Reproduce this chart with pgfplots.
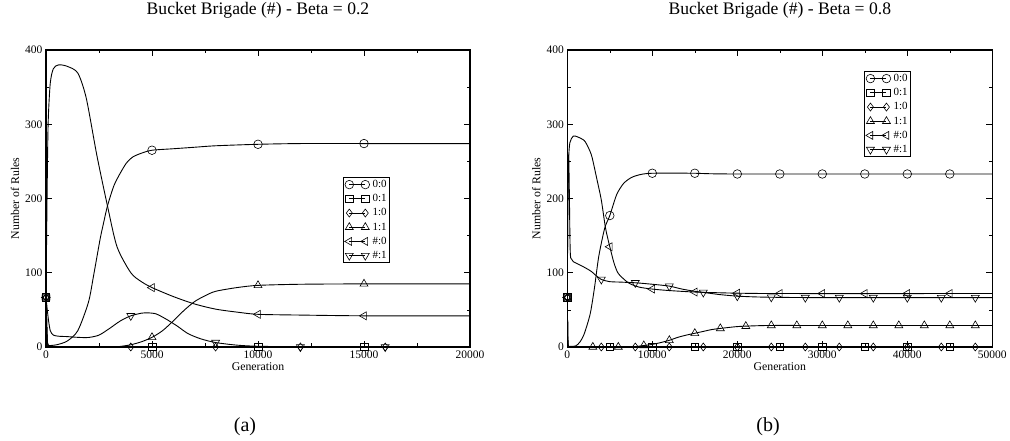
\documentclass[border=0pt]{standalone}
\usepackage{fontspec}
\setmainfont{Liberation Serif}
\usepackage{pgfplots}
\pgfplotsset{compat=1.18}
\pgfplotsset{
  bb/.style={
    scale only axis, width=424pt, height=297pt,
    xmin=0, ymin=0, ymax=400,
    ytick={0,100,200,300,400},
    minor tick num=1,
    tick align=inside,
    major tick length=6pt, minor tick length=3.5pt,
    tick style={black, line width=0.6pt},
    axis line style={line width=1.1pt},
    ticklabel style={font=\fontsize{11.5}{11.5}\selectfont},
    /pgf/number format/assume math mode=true,
    /pgf/number format/1000 sep={},
    scaled x ticks=false,
    label style={font=\fontsize{11.8}{11.8}\selectfont},
    title style={font=\fontsize{17.6}{17.6}\selectfont, at={(axis description cs:0.5,1)}, anchor=base, yshift=29.5pt},
    xlabel style={at={(axis description cs:0.5,0)}, anchor=base, yshift=-24pt},
    ylabel style={at={(axis description cs:-0.073,0.5)}, anchor=center},
    xlabel={Generation}, ylabel={Number of Rules},
    legend image code/.code={\path[draw=none, fill=none] (-4.5pt,-4pt) rectangle (21pt,4pt);
      \draw[mark repeat=2,mark phase=1] plot coordinates {(0pt,0pt) (8pt,0pt) (16pt,0pt)};},
    legend style={draw=black, line width=0.8pt, inner sep=1.5pt, row sep=3pt,
      font=\fontsize{11}{11}\selectfont, nodes={inner sep=1.2pt},
      /tikz/every odd column/.append style={column sep=1pt}},
    legend cell align=left,
  },
  ln/.style={black, line width=0.9pt, no markers, forget plot, smooth, tension=0.45},
  s00/.style={black, mark=o, mark size=4.3pt, mark options={solid, line width=0.6pt}},
  s01/.style={black, mark=square, mark size=3.8pt, mark options={solid, line width=0.6pt}},
  s10/.style={black, mark=diamond, mark size=4pt, mark options={solid, line width=0.6pt}},
  s11/.style={black, mark=triangle, mark size=4.6pt, mark options={solid, line width=0.6pt}},
  sh0/.style={black, mark=triangle, mark size=4.6pt, mark options={solid, line width=0.6pt, rotate=90}},
  sh1/.style={black, mark=triangle, mark size=4.6pt, mark options={solid, line width=0.6pt, rotate=180}},
  mk/.style={only marks, forget plot, line width=0.6pt},
}
\begin{document}
\begin{tikzpicture}
\path[use as bounding box] (0,0) rectangle (1010pt,441pt);
% ---------------- (a) Beta = 0.2 ----------------
\begin{axis}[bb, at={(46pt,94pt)}, anchor=south west,
  xmax=20000, xtick={0,5000,10000,15000,20000},
  title={Bucket Brigade (\#) - Beta = 0.2},
  legend style={at={(axis description cs:0.70,0.572)}, anchor=north west}]
\addlegendimage{s00}
\addlegendimage{s01}
\addlegendimage{s10}
\addlegendimage{s11}
\addlegendimage{sh0}
\addlegendimage{sh1}
\legend{0:0,0:1,1:0,1:1,\#:0,\#:1}
% 0:0
\addplot[ln] coordinates {(0,66.7) (30,5) (100,2) (500,3) (1000,8) (1500,22) (2000,60) (2250,97) (2550,145) (2700,165) (2900,190) (3200,217) (3500,234) (3800,248) (4100,256) (4500,261) (5000,265) (6000,267) (7000,269) (8000,271) (10000,273) (12000,274) (15000,274) (20000,274)};
% 0:1
\addplot[ln] coordinates {(0,66.7) (60,10) (150,1) (500,0) (20000,0)};
% 1:0
\addplot[ln] coordinates {(0,66.7) (60,10) (150,1) (500,0) (20000,0)};
% 1:1
\addplot[ln] coordinates {(0,66.7) (60,10) (150,1) (500,0) (3000,0) (3500,0.8) (4000,3) (4500,7) (5000,13) (5500,22) (6000,35) (6500,49) (7000,61) (7500,69) (8000,75) (9000,80) (10000,83) (12000,84.5) (15000,85) (20000,85)};
% #:0
\addplot[ln] coordinates {(0,66.7) (50,200) (100,300) (200,355) (350,375) (600,380) (1000,378) (1500,369) (1900,335) (2400,258) (2900,190) (3350,135) (4000,100) (4500,88) (5000,80) (6000,68) (7000,58) (8000,51) (9000,47) (10000,44) (12000,43) (15000,42) (20000,42)};
% #:1
\addplot[ln] coordinates {(0,66.7) (100,40) (200,22) (350,16) (600,14.5) (1000,14) (1500,13) (2000,12.8) (2500,16) (3000,25) (3500,35) (4000,42) (4500,45.5) (4800,46) (5200,44.5) (5700,37) (6200,28) (6700,18) (7300,11) (8000,6) (9000,2.5) (10000,1) (12000,0.2) (14000,0) (20000,0)};
% marks
\addplot[s00, mk] coordinates {(0,66.7) (5000,265) (10000,273) (15000,274)};
\addplot[s01, mk] coordinates {(0,66.7) (5000,0) (10000,0) (15000,0)};
\addplot[s10, mk] coordinates {(0,66.7) (4000,0) (8000,0) (12000,0) (16000,0)};
\addplot[s11, mk] coordinates {(0,66.7) (5000,13) (10000,83) (15000,85)};
\addplot[sh0, mk] coordinates {(0,66.7) (5000,80) (10000,44) (15000,42)};
\addplot[sh1, mk] coordinates {(0,66.7) (4000,42) (8000,6) (12000,0) (16000,0)};
\end{axis}
% ---------------- (b) Beta = 0.8 ----------------
\begin{axis}[bb, at={(567.3pt,94pt)}, anchor=south west, width=425pt,
  xmax=50000, xtick={0,10000,20000,30000,40000,50000},
  title={Bucket Brigade (\#) - Beta = 0.8},
  legend style={at={(axis description cs:0.698,0.929)}, anchor=north west}]
\addlegendimage{s00}
\addlegendimage{s01}
\addlegendimage{s10}
\addlegendimage{s11}
\addlegendimage{sh0}
\addlegendimage{sh1}
\legend{0:0,0:1,1:0,1:1,\#:0,\#:1}
% 0:0
\addplot[ln] coordinates {(0,66.7) (80,5) (300,1) (1000,1.5) (1500,7) (2000,18) (2700,45) (3200,80) (3700,122) (4400,160) (5000,177) (5800,205) (6600,220) (7500,228) (8500,232) (10000,234) (15000,234) (20000,233) (50000,233)};
% 0:1
\addplot[ln] coordinates {(0,66.7) (60,8) (150,1) (400,0) (50000,0)};
% 1:0
\addplot[ln] coordinates {(0,66.7) (60,8) (150,1) (400,0) (50000,0)};
% 1:1
\addplot[ln] coordinates {(0,66.7) (60,8) (150,1) (400,0) (7000,0) (8000,0.5) (9000,2) (10000,3.5) (11000,6) (12000,9) (13000,13) (14000,16) (15000,18.5) (16000,21) (17000,23.5) (18000,25) (20000,27.5) (22000,28.5) (24000,29) (30000,29) (50000,29)};
% #:0
\addplot[ln] coordinates {(0,66.7) (60,180) (150,250) (300,275) (700,284) (1200,283) (2000,278) (2500,268) (2900,256) (3500,225) (4000,198) (4500,160) (5000,135) (5500,113) (6000,99) (7000,88) (7600,84) (8500,80.5) (10000,78) (12000,76) (15000,74) (18000,73) (20000,72.5) (25000,72) (50000,72)};
% #:1
\addplot[ln] coordinates {(0,66.7) (60,200) (120,255) (180,250) (250,200) (320,140) (400,120) (700,115) (1900,108) (2800,102) (3300,97) (4000,91) (5000,88) (6000,87.5) (8000,86.5) (10000,84.5) (12000,82) (13500,78) (15000,75) (16000,73.5) (18000,70.5) (20000,68.5) (22000,67.5) (24000,67) (30000,66.5) (50000,66.5)};
% marks
\addplot[s00, mk] coordinates {(0,66.7) (5000,177) (10000,234) (15000,234) (20000,233) (25000,233) (30000,233) (35000,233) (40000,233) (45000,233)};
\addplot[s01, mk] coordinates {(0,66.7) (5000,0) (10000,0) (15000,0) (20000,0) (25000,0) (30000,0) (35000,0) (40000,0) (45000,0)};
\addplot[s10, mk] coordinates {(0,66.7) (4000,0) (8000,0) (12000,0) (16000,0) (20000,0) (24000,0) (28000,0) (32000,0) (36000,0) (40000,0) (44000,0) (48000,0)};
\addplot[s11, mk] coordinates {(0,66.7) (3000,0) (6000,0) (9000,2) (12000,9) (15000,18.5) (18000,25) (21000,28) (24000,29) (27000,29) (30000,29) (33000,29) (36000,29) (39000,29) (42000,29) (45000,29) (48000,29)};
\addplot[sh0, mk] coordinates {(0,66.7) (5000,135) (10000,78) (15000,74) (20000,72.5) (25000,72) (30000,72) (35000,72) (40000,72) (45000,72)};
\addplot[sh1, mk] coordinates {(0,66.7) (4000,91) (8000,86.5) (12000,82) (16000,73.5) (20000,68.5) (24000,67) (28000,66.5) (32000,66.5) (36000,66.5) (40000,66.5) (44000,66.5) (48000,66.5)};
\end{axis}
\node[font=\fontsize{20}{20}\selectfont, anchor=base] at (245pt,9pt) {(a)};
\node[font=\fontsize{20}{20}\selectfont, anchor=base] at (768pt,9pt) {(b)};
\end{tikzpicture}
\end{document}
